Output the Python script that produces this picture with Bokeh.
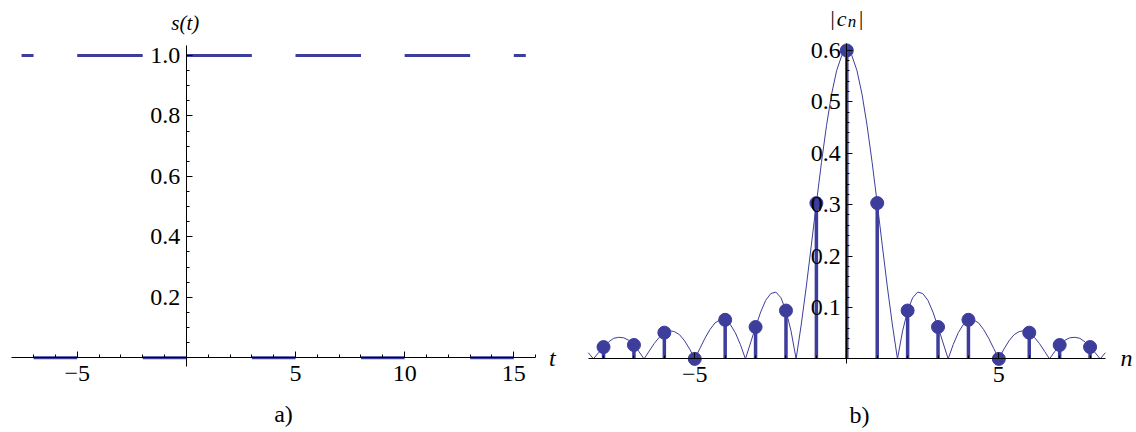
import numpy as np
from bokeh.plotting import figure
from bokeh.layouts import row
from bokeh.models import FixedTicker, Label, Range1d
from bokeh.embed import file_html
from bokeh.resources import INLINE

# ---------------- data ----------------
# a) periodic rectangular pulse s(t): interval edges and the level on each interval
t_edges = [-7.55, -7, -5, -2, 0, 3, 5, 8, 10, 13, 15, 15.55]
s_levels = [1, 0, 1, 0, 1, 0, 1, 0, 1, 0, 1]
t_ticks = [-5, 5, 10, 15]
t_tick_labels = ["\u22125", "5", "10", "15"]
s_ticks = [0.2, 0.4, 0.6, 0.8, 1.0]
s_tick_labels = ["0.2", "0.4", "0.6", "0.8", "1.0"]

# b) magnitude spectrum |c_n|
n_vals = [-8, -7, -6, -5, -4, -3, -2, -1, 0, 1, 2, 3, 4, 5, 6, 7, 8]
cn_vals = [0.023, 0.027, 0.051, 0.0, 0.076, 0.062, 0.094, 0.303, 0.600,
           0.303, 0.094, 0.062, 0.076, 0.0, 0.051, 0.027, 0.023]
# envelope, n >= 0, every 1/6 unit (curve is symmetric)
env_half = [0.600, 0.590, 0.561, 0.515, 0.454, 0.382, 0.303, 0.221, 0.140, 0.066, 0.000,
            0.054, 0.094, 0.119, 0.130, 0.127, 0.114, 0.091, 0.062, 0.031, 0.000,
            0.028, 0.051, 0.067, 0.076, 0.076, 0.070, 0.057, 0.040, 0.020, 0.000,
            0.019, 0.035, 0.047, 0.053, 0.055, 0.051, 0.042, 0.030, 0.015, 0.000,
            0.014, 0.027, 0.036, 0.041, 0.042, 0.040, 0.033, 0.023, 0.012, 0.000,
            0.012]
n_ticks = [-5, 5]
n_tick_labels = ["\u22125", "5"]
cn_ticks = [0.1, 0.2, 0.3, 0.4, 0.5, 0.6]
cn_tick_labels = ["0.1", "0.2", "0.3", "0.4", "0.5", "0.6"]

env_vals = env_half[:0:-1] + env_half
env_x = np.linspace(-8.5, 8.5, len(env_vals))

# ---------------- style ----------------
BLUE = "#3D3D9C"
SERIF = "Liberation Serif"
TICK_FS = "24px"


def style_axes(p, xt, xl, xminor, xbounds, yt, yl, yminor, ybounds):
    p.grid.visible = False
    p.outline_line_color = None
    p.xaxis.fixed_location = 0
    p.yaxis.fixed_location = 0
    p.xaxis.bounds = xbounds
    p.yaxis.bounds = ybounds
    p.xaxis.ticker = FixedTicker(ticks=xt, minor_ticks=xminor)
    p.yaxis.ticker = FixedTicker(ticks=yt, minor_ticks=yminor)
    p.xaxis.major_label_overrides = {t: l for t, l in zip(xt, xl)}
    p.yaxis.major_label_overrides = {t: l for t, l in zip(yt, yl)}
    for ax in (p.xaxis[0], p.yaxis[0]):
        ax.axis_line_color = "black"
        ax.axis_line_width = 1
        ax.major_tick_line_color = "black"
        ax.minor_tick_line_color = "black"
        ax.major_tick_in = 6
        ax.major_tick_out = 0
        ax.minor_tick_in = 3
        ax.minor_tick_out = 0
        ax.major_label_text_font = SERIF
        ax.major_label_text_font_size = TICK_FS
        ax.major_label_text_color = "black"
    p.xaxis.major_label_standoff = 8
    p.yaxis.major_label_standoff = 6


def add_label(p, x, y, text, size, style="normal", align="center"):
    p.add_layout(Label(x=x, y=y, text=text, text_font=SERIF, text_font_size=size,
                       text_font_style=style, text_align=align,
                       text_baseline="alphabetic", text_color="black"))


# ---------------- a) ----------------
p1 = figure(width=568, height=432, x_range=Range1d(-8.514, 17.506),
            y_range=Range1d(-0.2471, 1.1819),
            output_backend="svg", toolbar_location=None,
            min_border_left=0, min_border_right=0, min_border_top=0, min_border_bottom=0)
p1.segment(x0=t_edges[:-1], x1=t_edges[1:], y0=s_levels, y1=s_levels,
           line_color=BLUE, line_width=3)
t_minor = [v for v in range(-7, 17) if v % 5 != 0]
s_minor = [round(0.05 * k, 2) for k in range(1, 20) if k % 4 != 0]
style_axes(p1, t_ticks, t_tick_labels, t_minor, (-8, 16),
           s_ticks, s_tick_labels, s_minor, (-0.03, 1.033))
add_label(p1, -0.05, 1.107, "s(t)", "21px", "italic")
add_label(p1, 16.77, -0.002, "t", "24px", "italic")
add_label(p1, 4.45, -0.187, "a)", "24px")

# ---------------- b) ----------------
p2 = figure(width=566, height=432, x_range=Range1d(-9.152, 9.461),
            y_range=Range1d(-0.1432, 0.6971),
            output_backend="svg", toolbar_location=None,
            min_border_left=0, min_border_right=0, min_border_top=0, min_border_bottom=0)
p2.line(env_x, env_vals, line_color=BLUE, line_width=1)
p2.segment(x0=n_vals, x1=n_vals, y0=[0] * len(n_vals), y1=cn_vals,
           line_color=BLUE, line_width=3.5)
p2.scatter(n_vals, cn_vals, size=13, fill_color=BLUE, line_color=BLUE)
n_minor = [v for v in range(-8, 9) if v % 5 != 0]
cn_minor = [round(0.02 * k, 2) for k in range(1, 31) if k % 5 != 0]
style_axes(p2, n_ticks, n_tick_labels, n_minor, (-8.5, 8.5),
           cn_ticks, cn_tick_labels, cn_minor, (-0.0095, 0.6135))
add_label(p2, -0.47, 0.6626, "|", "21px")
add_label(p2, -0.33, 0.6626, "c", "22px", "italic", "left")
add_label(p2, 0.03, 0.6558, "n", "17px", "italic", "left")
add_label(p2, 0.47, 0.6626, "|", "21px")
add_label(p2, 9.198, 0.002, "n", "24px", "italic")
add_label(p2, 0.418, -0.1098, "b)", "24px")

layout = row(p1, p2)
open("out.html", "w").write(file_html(layout, INLINE))
